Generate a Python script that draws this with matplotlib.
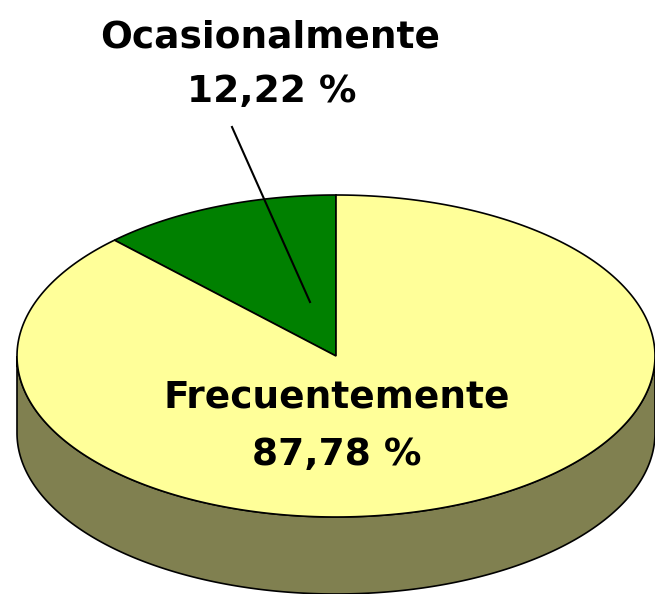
import numpy as np
import matplotlib.pyplot as plt
from matplotlib.patches import Polygon

# data
labels = ['Ocasionalmente', 'Frecuentemente']
values = [12.22, 87.78]
colors = ['#008000', '#FFFF99']
side_color = '#808050'

# geometry of the 3D pie (pixel space)
cx, cy = 336, 356
a, b = 319, 161
depth = 77


def ell(theta):
    # theta measured clockwise from 12 o'clock, in radians
    return cx + a * np.sin(theta), cy - b * np.cos(theta)


fig = plt.figure(figsize=(6.55, 5.94), dpi=100)
ax = fig.add_axes([0, 0, 1, 1])
ax.set_xlim(0, 655)
ax.set_ylim(594, 0)
ax.axis('off')

# side wall (front half of the ellipse)
t = np.linspace(np.pi / 2, 3 * np.pi / 2, 300)
x, y = ell(t)
side = np.column_stack([np.r_[x, x[::-1]], np.r_[y, y[::-1] + depth]])
ax.add_patch(Polygon(side, closed=True, fc=side_color, ec='black', lw=1.2))

# top slices: first slice goes counter-clockwise from 12 o'clock
start = 0.0
fracs = np.array(values) / sum(values)
for frac, col in zip(fracs, colors):
    end = start - frac * 2 * np.pi
    t = np.linspace(start, end, 300)
    x, y = ell(t)
    pts = np.column_stack([np.r_[cx, x], np.r_[cy, y]])
    ax.add_patch(Polygon(pts, closed=True, fc=col, ec='black', lw=1.2))
    start = end

font = dict(family='DejaVu Sans', weight='bold', fontsize=27, ha='center', va='center')

# labels
ax.text(270, 37, labels[0], **font)
ax.text(272, 92, f'{values[0]:.2f} %'.replace('.', ','), **font)
ax.plot([232, 310], [127, 302], color='black', lw=1.5)

ax.text(337, 397, labels[1], **font)
ax.text(337, 455, f'{values[1]:.2f} %'.replace('.', ','), **font)

fig.savefig('out.png', dpi=100)
